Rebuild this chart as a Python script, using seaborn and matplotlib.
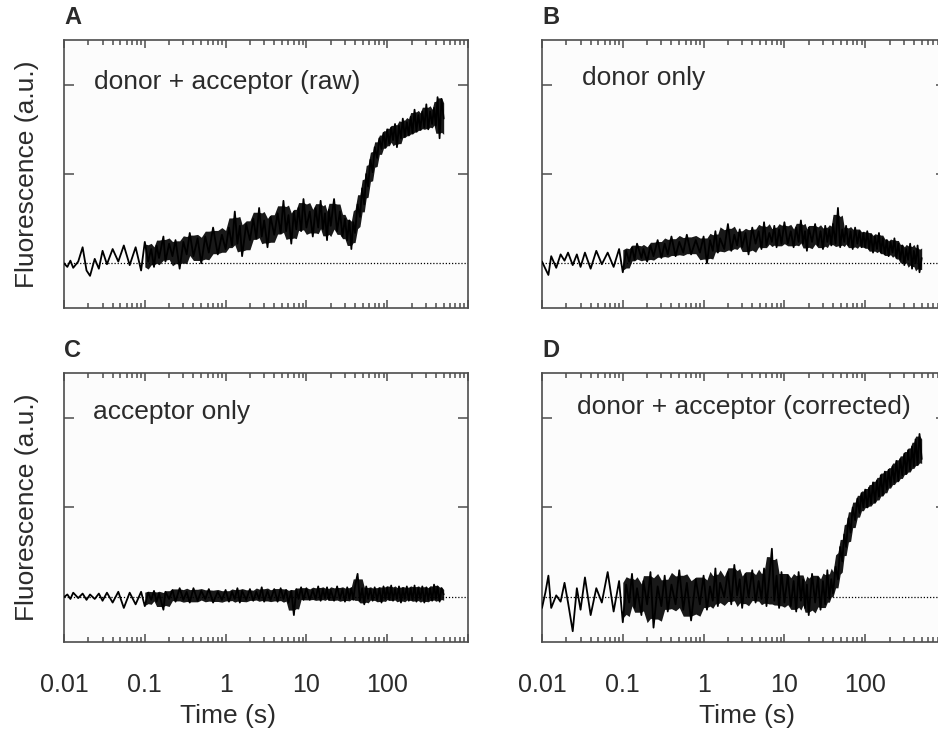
import numpy as np
import pandas as pd
import seaborn as sns
import matplotlib.pyplot as plt
from matplotlib.ticker import LogLocator, NullFormatter

# time points (s), shared by all four traces
time_s = [
    0.010, 0.011, 0.012, 0.013, 0.015, 0.017, 0.019, 0.021, 0.024, 0.027,
    0.030, 0.034, 0.040, 0.047, 0.055, 0.065, 0.077, 0.090,
    0.10, 0.11, 0.12, 0.13, 0.14, 0.15, 0.17, 0.18, 0.20, 0.22, 0.24, 0.27,
    0.30, 0.33, 0.36, 0.40, 0.45, 0.50, 0.56, 0.62, 0.70, 0.80, 0.90,
    1.0, 1.1, 1.2, 1.3, 1.4, 1.5, 1.6, 1.8, 2.0, 2.2, 2.4, 2.6, 2.8, 3.0,
    3.3, 3.6, 4.0, 4.4, 4.8, 5.2, 5.6, 6.0, 6.5, 7.0, 7.5, 8.0, 8.6, 9.2,
    10, 11, 12, 13, 14, 15, 16, 17, 18, 19, 20, 22, 24, 26, 28, 30, 32, 34,
    36, 38, 40, 43, 46, 49, 52, 55, 58, 62, 66, 70, 75, 80, 85, 90, 95,
    100, 106, 112, 118, 125, 132, 140, 148, 156, 165, 175, 185, 195, 206,
    218, 230, 243, 257, 272, 288, 305, 322, 340, 360, 380, 400, 420, 445,
    470, 500,
]

# A: donor + acceptor (raw)
raw = [
    0.00, -0.04, 0.03, -0.05, 0.02, 0.18, -0.08, -0.14, 0.05, -0.06,
    0.14, -0.01, 0.16, 0.02, 0.20, -0.02, 0.18, -0.08,
    0.24, 0.02, 0.16, -0.04, 0.20, 0.06, 0.30, 0.02, 0.22, 0.08, 0.26, -0.06,
    0.24, 0.10, 0.34, 0.08, 0.28, 0.00, 0.30, 0.12, 0.40, 0.10, 0.32,
    0.16, 0.40, 0.20, 0.58, 0.22, 0.42, 0.08, 0.44, 0.26, 0.50, 0.28, 0.62, 0.30, 0.48,
    0.18, 0.52, 0.32, 0.56, 0.34, 0.70, 0.36, 0.54, 0.22, 0.58, 0.38, 0.62, 0.36, 0.72,
    0.40, 0.58, 0.30, 0.62, 0.40, 0.70, 0.38, 0.56, 0.26, 0.60, 0.42, 0.72, 0.36, 0.58, 0.30, 0.50, 0.26, 0.48,
    0.16, 0.46, 0.34, 0.66, 0.52, 0.84, 0.66, 1.00, 0.86, 1.16, 1.02, 1.30, 1.18, 1.40, 1.28, 1.46, 1.30,
    1.50, 1.34, 1.52, 1.38, 1.56, 1.30, 1.54, 1.40, 1.62, 1.42, 1.58, 1.44, 1.64, 1.46,
    1.72, 1.48, 1.66, 1.50, 1.70, 1.52, 1.78, 1.50, 1.70, 1.56, 1.74, 1.54, 1.86, 1.40,
    1.84, 1.62,
]

# B: donor only
donor = [
    0.02, -0.06, -0.13, 0.08, -0.05, 0.10, 0.03, 0.12, -0.02, 0.10,
    -0.04, 0.12, -0.06, 0.14, -0.01, 0.12, -0.04, 0.16,
    -0.10, 0.14, 0.02, 0.18, 0.04, 0.22, 0.06, 0.16, 0.02, 0.20, 0.08, 0.26,
    0.06, 0.22, 0.10, 0.30, 0.08, 0.24, 0.12, 0.32, 0.10, 0.26, 0.12,
    0.30, 0.00, 0.26, 0.14, 0.36, 0.12, 0.28, 0.16, 0.44, 0.14, 0.32, 0.20, 0.38, 0.18,
    0.34, 0.10, 0.40, 0.22, 0.36, 0.16, 0.46, 0.20, 0.34, 0.24, 0.42, 0.18, 0.38, 0.22,
    0.46, 0.22, 0.36, 0.18, 0.40, 0.24, 0.48, 0.22, 0.36, 0.14, 0.40, 0.24, 0.44, 0.20, 0.36, 0.16, 0.42, 0.24,
    0.38, 0.20, 0.44, 0.22, 0.62, 0.18, 0.38, 0.24, 0.42, 0.20, 0.36, 0.16, 0.40, 0.22, 0.36, 0.18, 0.34,
    0.18, 0.36, 0.16, 0.32, 0.12, 0.30, 0.16, 0.34, 0.12, 0.28, 0.10, 0.26, 0.08, 0.24,
    0.12, 0.28, 0.06, 0.22, 0.04, 0.20, -0.02, 0.16, 0.04, 0.22, -0.06, 0.14, 0.00, 0.20,
    -0.10, 0.06,
]

# C: acceptor only
acceptor = [
    0.00, 0.03, -0.02, 0.05, -0.01, 0.04, -0.03, 0.03, -0.02, 0.04,
    -0.04, 0.05, -0.06, 0.06, -0.12, 0.05, -0.08, 0.06,
    -0.10, 0.05, -0.03, 0.07, -0.05, 0.04, -0.14, 0.06, -0.02, 0.08, -0.05, 0.10,
    -0.03, 0.06, -0.06, 0.10, -0.04, 0.07, -0.02, 0.09, -0.06, 0.06, -0.03,
    0.08, -0.05, 0.06, -0.02, 0.10, -0.06, 0.07, -0.03, 0.09, -0.04, 0.06, -0.02, 0.11, -0.05,
    0.07, -0.03, 0.09, -0.05, 0.10, -0.02, 0.08, -0.06, 0.07, -0.20, 0.09, -0.02, 0.11, -0.03,
    0.10, -0.03, 0.08, -0.02, 0.12, -0.04, 0.09, -0.01, 0.11, -0.03, 0.08, -0.04, 0.12, -0.02, 0.09, -0.05, 0.11,
    -0.02, 0.10, -0.03, 0.12, 0.26, -0.04, 0.10, -0.08, 0.12, -0.02, 0.09, -0.04, 0.11, -0.03, 0.10, -0.06, 0.12, -0.02,
    0.11, -0.03, 0.13, -0.04, 0.09, -0.02, 0.12, -0.06, 0.10, -0.02, 0.12, -0.04, 0.10, -0.03,
    0.13, -0.05, 0.10, -0.02, 0.12, -0.06, 0.11, -0.03, 0.10, -0.04, 0.14, -0.02, 0.12, -0.05,
    0.10, 0.03,
]

# D: donor + acceptor (corrected)
corrected = [
    -0.12, 0.05, 0.24, -0.12, 0.02, -0.05, 0.16, -0.06, -0.38, 0.10,
    -0.14, 0.22, -0.20, 0.10, -0.06, 0.28, -0.16, 0.18,
    -0.28, 0.14, -0.06, 0.26, -0.12, 0.10, -0.20, 0.18, -0.08, 0.28, -0.34, 0.12,
    -0.10, 0.24, -0.16, 0.14, -0.08, 0.30, -0.14, 0.16, -0.26, 0.20, -0.08,
    0.24, -0.14, 0.12, -0.04, 0.32, -0.10, 0.16, 0.00, 0.28, -0.08, 0.36, 0.02, 0.20, -0.12,
    0.26, 0.00, 0.30, -0.06, 0.18, -0.02, 0.32, -0.10, 0.22, 0.54, -0.04, 0.24, -0.12, 0.28,
    -0.06, 0.24, -0.10, 0.18, -0.16, 0.28, -0.04, 0.20, -0.12, 0.14, -0.20, 0.26, -0.06, 0.22, -0.14, 0.18, -0.08,
    0.30, -0.02, 0.20, 0.04, 0.34, 0.20, 0.56, 0.40, 0.70, 0.56, 0.88, 0.72, 1.00, 0.86, 1.10, 0.94, 1.16, 1.00,
    1.20, 1.00, 1.22, 1.04, 1.28, 1.06, 1.30, 1.12, 1.36, 1.14, 1.40, 1.20, 1.42, 1.24,
    1.46, 1.28, 1.52, 1.30, 1.54, 1.36, 1.60, 1.38, 1.64, 1.42, 1.68, 1.46, 1.76, 1.48,
    1.82, 1.54,
]

panel_letters = ['A', 'B', 'C', 'D']
panel_titles = ['donor + acceptor (raw)', 'donor only', 'acceptor only',
                'donor + acceptor (corrected)']
xtick_values = [0.01, 0.1, 1, 10, 100, 1000]
xtick_labels = ['0.01', '0.1', '1', '10', '100', '']
ytick_values = [1, 2]

sns.set_style('ticks')
plt.rcParams['font.family'] = ['Liberation Sans', 'DejaVu Sans']

fig = plt.figure(figsize=(9.38, 7.32), dpi=100)
W, H = 938, 732
# axes boxes in pixels: left, top, width, height
boxes = [(64, 40, 404, 268), (542, 40, 404, 268),
         (64, 373, 404, 269), (542, 373, 404, 269)]
title_pos = [(0.074, 0.843), (0.099, 0.858), (0.072, 0.855), (0.087, 0.874)]
series = [raw, donor, acceptor, corrected]
frame = '#4d4d4d'
text_col = '#2b2b2b'

for i, (l, t, w, h) in enumerate(boxes):
    ax = fig.add_axes([l / W, (H - t - h) / H, w / W, h / H])
    ax.set_facecolor('#fcfcfc')
    df = pd.DataFrame({'t': time_s, 'f': series[i]})
    # dense core of the noisy trace (running quantiles), where samples are dense
    roll = df['f'].rolling(5, center=True, min_periods=1)
    lo, hi = roll.quantile(0.1), roll.quantile(0.9)
    dense = df['t'] >= 0.1
    ax.axhline(0, color='black', lw=0.9, ls=(0, (1, 1.5)), zorder=1)
    ax.fill_between(df['t'], lo, hi, where=dense, color='black', alpha=0.9,
                    lw=0, zorder=2)
    sns.lineplot(data=df, x='t', y='f', ax=ax, color='black', lw=1.3,
                 estimator=None, sort=False, zorder=3)
    ax.set_xscale('log')
    ax.set_xlim(0.01, 1000)
    ax.set_ylim(-0.5, 2.5)
    ax.set_xticks(xtick_values)
    ax.xaxis.set_minor_locator(LogLocator(base=10, subs=range(2, 10), numticks=20))
    ax.xaxis.set_minor_formatter(NullFormatter())
    ax.set_yticks(ytick_values)
    ax.set_yticklabels([])
    ax.tick_params(which='both', direction='in', top=True, right=True,
                   color=frame, width=1.1)
    ax.tick_params(which='major', length=6)
    ax.tick_params(which='minor', length=3.5)
    ax.tick_params(axis='y', which='major', length=7)
    for s in ax.spines.values():
        s.set_color(frame)
        s.set_linewidth(1.2)

    if i >= 2:
        ax.set_xticklabels(xtick_labels, fontsize=18, color=text_col)
        ax.tick_params(axis='x', which='major', pad=22)
        ax.set_xlabel('Time (s)', fontsize=19, color=text_col)
        ax.xaxis.set_label_coords(0.406 if i == 2 else 0.507, -0.23)
    else:
        ax.set_xticklabels([])
        ax.set_xlabel('')

    if i % 2 == 0:
        ax.set_ylabel('Fluorescence (a.u.)', fontsize=19, color=text_col)
        ax.yaxis.set_label_coords(-0.062, 0.5)
    else:
        ax.set_ylabel('')

    ax.text(title_pos[i][0], title_pos[i][1], panel_titles[i], transform=ax.transAxes,
            fontsize=19, color=text_col, ha='left', va='center')
    ax.text(0.0, 1.04, panel_letters[i], transform=ax.transAxes,
            fontsize=17, fontweight='bold', color=text_col, ha='left', va='bottom')

fig.savefig('out.png', dpi=100, facecolor='white')
